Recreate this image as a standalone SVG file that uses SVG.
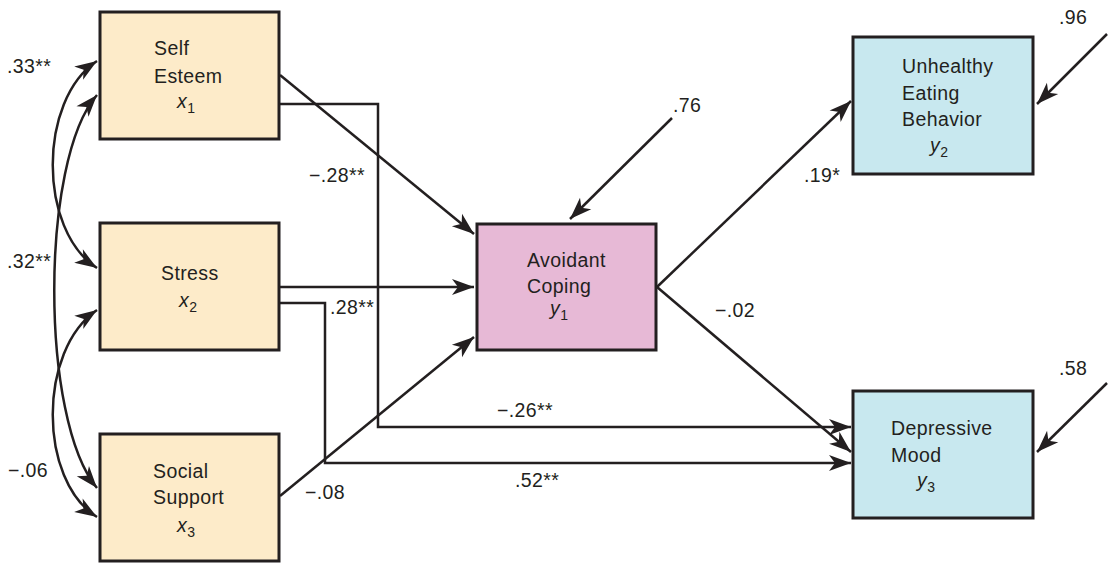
<svg xmlns="http://www.w3.org/2000/svg" width="1112" height="565" viewBox="0 0 1112 565">
<style>
.box{stroke:#231f20;stroke-width:3}
.x{fill:#fdebc9}
.p{fill:#e7b9d6}
.b{fill:#c8e8ef}
text{font-family:"Liberation Sans",Arial,sans-serif;font-size:19.5px;fill:#231f20;letter-spacing:0.4px}
.v{font-style:italic}
.s{font-size:14px;font-style:normal}
.c{fill:none;stroke:#231f20;stroke-width:2.5}
</style>
<defs>
<marker id="ah" markerUnits="userSpaceOnUse" viewBox="-24 -10 26 20" markerWidth="26" markerHeight="20" refX="0" refY="0" orient="auto-start-reverse">
<path d="M0,0 L-22,-8 L-16,0 L-22,8 Z" fill="#231f20"/>
</marker>
</defs>
<rect width="1112" height="565" fill="#fff"/>
<g id="connectors">
<path class="c" d="M280,75 L474,234" marker-end="url(#ah)"/>
<path class="c" d="M280,104 H378 V427 H851" marker-end="url(#ah)"/>
<path class="c" d="M280,287 H474" marker-end="url(#ah)"/>
<path class="c" d="M280,303 H325 V463 H851" marker-end="url(#ah)"/>
<path class="c" d="M280,496 L474,337" marker-end="url(#ah)"/>
<path class="c" d="M672,118 L570,219" marker-end="url(#ah)"/>
<path class="c" d="M657,287 L851,101" marker-end="url(#ah)"/>
<path class="c" d="M657,287 L851,452" marker-end="url(#ah)"/>
<path class="c" d="M1107,34 L1037,104" marker-end="url(#ah)"/>
<path class="c" d="M1107,383 L1037,452" marker-end="url(#ah)"/>
<path class="c" d="M97,61 C38,100 38,230 97,268" marker-start="url(#ah)" marker-end="url(#ah)"/>
<path class="c" d="M97,95 C40,160 40,420 97,488" marker-start="url(#ah)" marker-end="url(#ah)"/>
<path class="c" d="M97,310 C38,350 38,480 97,517" marker-start="url(#ah)" marker-end="url(#ah)"/>
</g>
<g id="self-esteem">
<rect class="box x" x="100" y="12" width="179" height="127"/>
<text x="154" y="55">Self</text>
<text x="154" y="83">Esteem</text>
<text x="177" y="108" class="v">x<tspan class="s" dy="5">1</tspan></text>
</g>
<g id="stress">
<rect class="box x" x="100" y="223" width="179" height="127"/>
<text x="161" y="280">Stress</text>
<text x="179" y="307" class="v">x<tspan class="s" dy="5">2</tspan></text>
</g>
<g id="social-support">
<rect class="box x" x="100" y="434" width="179" height="127"/>
<text x="153" y="478">Social</text>
<text x="153" y="504">Support</text>
<text x="177" y="532" class="v">x<tspan class="s" dy="5">3</tspan></text>
</g>
<g id="avoidant-coping">
<rect class="box p" x="477" y="224" width="179" height="126"/>
<text x="527" y="267">Avoidant</text>
<text x="527" y="293">Coping</text>
<text x="550" y="315" class="v">y<tspan class="s" dy="5">1</tspan></text>
</g>
<g id="unhealthy-eating">
<rect class="box b" x="853" y="37" width="180" height="137"/>
<text x="902" y="73">Unhealthy</text>
<text x="902" y="100">Eating</text>
<text x="902" y="126">Behavior</text>
<text x="930" y="152" class="v">y<tspan class="s" dy="5">2</tspan></text>
</g>
<g id="depressive-mood">
<rect class="box b" x="853" y="391" width="180" height="127"/>
<text x="891" y="435">Depressive</text>
<text x="891" y="462">Mood</text>
<text x="917" y="487" class="v">y<tspan class="s" dy="5">3</tspan></text>
</g>
<g id="labels">
<text x="7" y="73">.33**</text>
<text x="7" y="268">.32**</text>
<text x="8" y="477">−.06</text>
<text x="305" y="499">−.08</text>
<text x="309" y="182">−.28**</text>
<text x="330" y="314">.28**</text>
<text x="673" y="112">.76</text>
<text x="804" y="182">.19*</text>
<text x="1059" y="24">.96</text>
<text x="715" y="317">−.02</text>
<text x="1059" y="375">.58</text>
<text x="497" y="417">−.26**</text>
<text x="515" y="487">.52**</text>
</g>
</svg>
